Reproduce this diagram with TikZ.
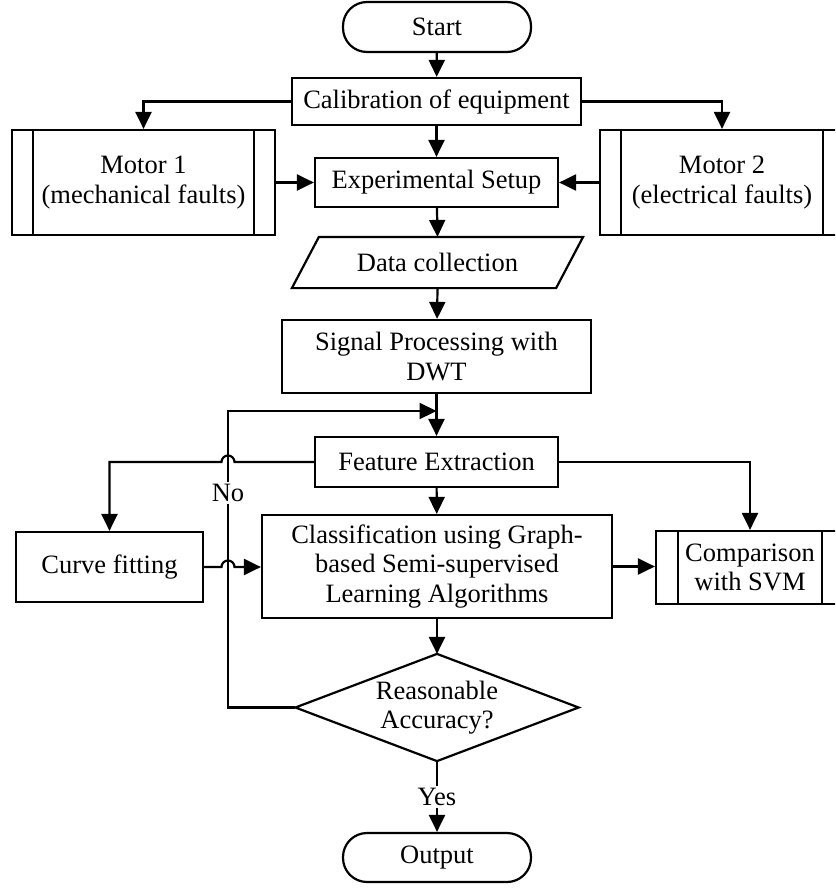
\documentclass[tikz,border=0pt]{standalone}
\usepackage{fontspec}
\setmainfont{Liberation Serif}
\usetikzlibrary{arrows.meta}
\begin{document}
\begin{tikzpicture}[x=1pt,y=-1pt,line width=2.2pt,
  txt/.style={align=center,inner sep=0pt,font=\fontsize{26.5}{29.5}\selectfont},
  box/.style={txt,draw,rectangle},
  term/.style={txt,draw,rectangle,rounded corners=24pt},
  arr/.style={-{Triangle[length=17pt,width=16pt]}},
  lbl/.style={txt,fill=white,inner sep=2pt}]
\useasboundingbox (0,0) rectangle (835,888);
\clip (0,0) rectangle (835,888);
% nodes
\node[term,minimum width=188pt,minimum height=50pt] (start) at (437,27) {Start};
\node[box,minimum width=289pt,minimum height=47pt] (cal) at (436.5,101.5) {Calibration of equipment};
\node[box,minimum width=263pt,minimum height=105pt] (m1) at (143.5,182.5) {Motor 1\\(mechanical faults)};
\node[box,minimum width=244pt,minimum height=105pt] (m2) at (722,182.5) {Motor 2\\(electrical faults)};
\node[box,minimum width=243pt,minimum height=49pt] (es) at (436.5,182.5) {Experimental Setup};
\node[txt,minimum width=289pt,minimum height=49pt] (dc) at (437.5,262.5) {Data collection};
\node[box,minimum width=309pt,minimum height=73pt] (sp) at (436.5,356.5) {Signal Processing with\\DWT};
\node[box,minimum width=243pt,minimum height=50pt] (fe) at (436.5,462) {Feature Extraction};
\node[box,minimum width=187pt,minimum height=70pt] (cf) at (109.5,567) {Curve fitting};
\node[box,minimum width=350pt,minimum height=103pt] (cl) at (437,566.5) {Classification using Graph-\\based Semi-supervised\\Learning Algorithms};
\node[box,minimum width=188pt,minimum height=73pt] (svm) at (750,567.5) {Comparison\\with SVM};
\node[txt,minimum width=281pt,minimum height=105pt] (dec) at (437,707.5) {Reasonable\\Accuracy?};
\node[term,minimum width=188pt,minimum height=49pt] (out) at (437,857.5) {Output};
% special shapes
\draw (dc.south west) -- ([xshift=-27pt]dc.south east) -- (dc.north east) -- ([xshift=27pt]dc.north west) -- cycle;
\draw (dec.north) -- (dec.east) -- (dec.south) -- (dec.west) -- cycle;
\draw ([xshift=22pt]m1.north west) -- ([xshift=22pt]m1.south west);
\draw ([xshift=-22pt]m1.north east) -- ([xshift=-22pt]m1.south east);
\draw ([xshift=22pt]m2.north west) -- ([xshift=22pt]m2.south west);
\draw ([xshift=-22pt]m2.north east) -- ([xshift=-22pt]m2.south east);
\draw ([xshift=23pt]svm.north west) -- ([xshift=23pt]svm.south west);
\draw ([xshift=-23pt]svm.north east) -- ([xshift=-23pt]svm.south east);
% loop corner coordinate
\coordinate (lp) at (228,411);
% connectors
\draw[arr] (start) -- (cal);
\draw[arr] (cal.west) -| (m1.north);
\draw[arr] (cal.east) -| (m2.north);
\draw[arr] (cal) -- (es);
\draw[arr] (m1.east) -- (es.west);
\draw[arr] (m2.west) -- (es.east);
\draw[arr] (es) -- (dc.north);
\draw[arr] (dc.south) -- (sp);
\draw[arr] (sp) -- (fe);
\draw[arr] (fe.east) -| (svm.north);
\draw[arr] (fe) -- (cl);
\draw[arr] (cl.east) -- (cl.east -| svm.west);
\draw[arr] (cl) -- (dec.north);
\draw[arr] (dec.west) -- (dec.west -| lp) -- (lp) -- (lp -| fe.north);
\draw[arr] (fe.west) -- ([xshift=6.5pt]lp |- fe.west) arc[start angle=0,end angle=180,radius=6.5pt] -- (cf.north |- fe.west) -- (cf.north);
\draw[arr] (cf.east) -- ([xshift=-6.5pt]lp |- cf.east) arc[start angle=180,end angle=0,radius=6.5pt] -- (cl.west |- cf.east);
\draw[arr] (dec.south) -- (out);
\node[lbl] (no) at (228,493) {No};
\node[lbl] (yes) at (437,797) {Yes};
\end{tikzpicture}
\end{document}
